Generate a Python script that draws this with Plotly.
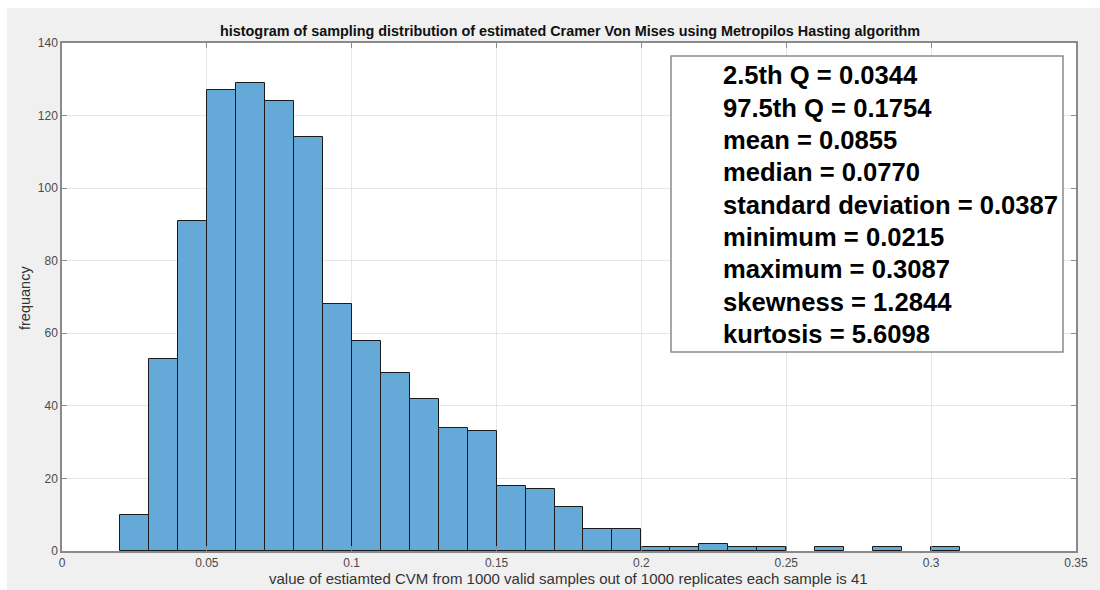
import plotly.graph_objects as go

# ---- data ----
bin_start = 0.02
bin_width = 0.01
counts = [10, 53, 91, 127, 129, 124, 114, 68, 58, 49, 42, 34, 33, 18, 17, 12,
          6, 6, 1, 1, 2, 1, 1, 0, 1, 0, 1, 0, 1]
stat_labels = ["2.5th Q", "97.5th Q", "mean", "median", "standard deviation",
               "minimum", "maximum", "skewness", "kurtosis"]
stat_values = ["0.0344", "0.1754", "0.0855", "0.0770", "0.0387",
               "0.0215", "0.3087", "1.2844", "5.6098"]
x_ticks = [0, 0.05, 0.1, 0.15, 0.2, 0.25, 0.3, 0.35]
x_tick_text = ["0", "0.05", "0.1", "0.15", "0.2", "0.25", "0.3", "0.35"]
y_ticks = [0, 20, 40, 60, 80, 100, 120, 140]

title_text = "histogram of sampling distribution of estimated Cramer Von Mises using Metropilos Hasting algorithm"
xlabel_text = "value of estiamted CVM from 1000 valid samples out of 1000 replicates each sample is 41"
ylabel_text = "frequancy"

# ---- layout geometry (pixels) ----
W, H = 1100, 590
L, R, T, B = 62, 1076, 43, 551
PW, PH = R - L, B - T


def px(xp):
    return (xp - L) / PW


def py(yp):
    return (B - yp) / PH


centers = [round(bin_start + bin_width * (i + 0.5), 4) for i in range(len(counts))]
xs = [c for c, n in zip(centers, counts) if n > 0]
ys = [n for n in counts if n > 0]

FONT = "Liberation Sans, Arial, sans-serif"
AXC = "#8a8a8a"

fig = go.Figure()
fig.add_trace(go.Bar(
    x=xs, y=ys, width=bin_width,
    marker=dict(color="#64a9d8", line=dict(color="#1a1a1a", width=1)),
    showlegend=False, hoverinfo="x+y",
))

shapes = [
    # white border strips (left and top)
    dict(type="rect", xref="paper", yref="paper", x0=px(0), x1=px(7), y0=py(H), y1=py(0),
         fillcolor="white", line=dict(width=0), layer="below"),
    dict(type="rect", xref="paper", yref="paper", x0=px(0), x1=px(W), y0=py(8), y1=py(0),
         fillcolor="white", line=dict(width=0), layer="below"),
    # stats box
    dict(type="rect", xref="paper", yref="paper", x0=px(671), x1=px(1063), y0=py(352), y1=py(56),
         fillcolor="white", line=dict(color="#8a8a8a", width=1.5), layer="above"),
]

line_y = [75, 108, 140, 172, 205, 237, 269, 302, 334]
annotations = []
for lab, val, yp in zip(stat_labels, stat_values, line_y):
    annotations.append(dict(
        text=f"<b>{lab} = {val}</b>", xref="paper", yref="paper",
        x=px(721), y=py(yp), xanchor="left", yanchor="middle", showarrow=False,
        font=dict(family=FONT, size=25.6, color="black"),
    ))

annotations.append(dict(text=f"<b>{title_text}</b>", xref="paper", yref="paper",
                        x=px(570), y=py(31), xanchor="center", yanchor="middle", showarrow=False,
                        font=dict(family=FONT, size=14.4, color="#111111")))
annotations.append(dict(text=xlabel_text, xref="paper", yref="paper",
                        x=px(568), y=py(578), xanchor="center", yanchor="middle", showarrow=False,
                        font=dict(family=FONT, size=15, color="#333333")))
annotations.append(dict(text=ylabel_text, xref="paper", yref="paper", textangle=-90,
                        x=px(25), y=py(298), xanchor="center", yanchor="middle", showarrow=False,
                        font=dict(family=FONT, size=14.5, color="#333333")))

fig.update_layout(
    width=W, height=H,
    margin=dict(l=L, r=W - R, t=T, b=H - B, pad=0),
    paper_bgcolor="#f0f0f0", plot_bgcolor="white",
    bargap=0, shapes=shapes, annotations=annotations,
    font=dict(family=FONT, size=12, color="#4a4a4a"),
)
fig.update_xaxes(range=[0, 0.35], tickvals=x_ticks, ticktext=x_tick_text,
                 showgrid=True, gridcolor="#e6e6e6", gridwidth=1,
                 showline=True, linecolor=AXC, linewidth=1.5, mirror="ticks",
                 ticks="inside", ticklen=5, tickcolor=AXC, tickwidth=1,
                 zeroline=False, tickfont=dict(size=12, color="#4a4a4a"))
fig.update_yaxes(range=[0, 140], tickvals=y_ticks,
                 showgrid=True, gridcolor="#e6e6e6", gridwidth=1,
                 showline=True, linecolor=AXC, linewidth=1.5, mirror="ticks",
                 ticks="inside", ticklen=5, tickcolor=AXC, tickwidth=1,
                 zeroline=False, tickfont=dict(size=12, color="#4a4a4a"))

fig.write_html("out.html")
